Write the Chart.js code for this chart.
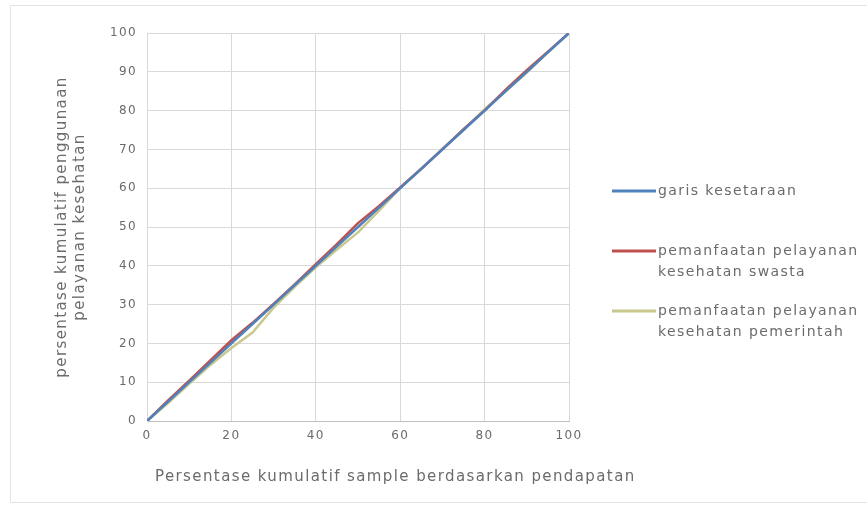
<!DOCTYPE html>
<html>
<head>
<meta charset="utf-8">
<script src="https://cdn.jsdelivr.net/npm/chart.js@4"></script>
<style>
  body { margin: 0; background: #fff; }
</style>
</head>
<body>
<canvas id="lorenzChart" width="867" height="510"></canvas>
<script>
// cumulative % of sample by income (x) and cumulative % of health service use (y)
const sampleX = [0, 5, 10, 15, 20, 25, 30, 35, 40, 45, 50, 55, 60, 65, 70, 75, 80, 85, 90, 95, 100];
const garisKesetaraan = [0, 5, 10, 15, 20, 25, 30, 35, 40, 45, 50, 55, 60, 65, 70, 75, 80, 85, 90, 95, 100];
const swasta = [0, 5.3, 10.4, 15.6, 20.8, 25.3, 30.2, 35.2, 40.4, 45.6, 51, 55.4, 60.2, 65, 70, 75.2, 80, 85.4, 90.4, 95.2, 100];
const pemerintah = [0, 4.6, 9.6, 14.4, 18.8, 22.8, 29.2, 34.6, 39.6, 44.2, 48.6, 54.2, 60, 65, 70.2, 75, 80.4, 85, 89.8, 95, 100];

const seriesNames = ["garis kesetaraan", ["pemanfaatan pelayanan", "kesehatan swasta"], ["pemanfaatan pelayanan", "kesehatan pemerintah"]];
const seriesColors = ["#4f81bd", "#c0504d", "#c9c88e"];
const xTitle = "Persentase kumulatif sample berdasarkan pendapatan";
const yTitle = ["persentase kumulatif penggunaan", "pelayanan kesehatan"];

const FONT = "'DejaVu Sans', sans-serif";
const GREY = "#6b6b6b";

function toPoints(ys) {
  return ys.map((y, i) => ({ x: sampleX[i], y: y }));
}

// legend drawn at the right like the spreadsheet one, with wrapped labels;
// the x title is drawn here too because it runs wider than the plot
const sideLegend = {
  id: "sideLegend",
  afterDraw(chart) {
    const ctx = chart.ctx;
    const rows = [191, 251, 311];
    ctx.save();
    ctx.font = "14px " + FONT;
    ctx.fillStyle = GREY;
    ctx.textBaseline = "middle";
    chart.data.datasets.forEach((ds, i) => {
      const y = rows[i];
      ctx.strokeStyle = ds.borderColor;
      ctx.lineWidth = 3;
      ctx.beginPath();
      ctx.moveTo(612, y);
      ctx.lineTo(656, y);
      ctx.stroke();
      const lines = Array.isArray(seriesNames[i]) ? seriesNames[i] : [seriesNames[i]];
      lines.forEach((t, j) => ctx.fillText(t, 658, y + j * 21));
    });
    ctx.font = "15px " + FONT;
    ctx.letterSpacing = "1.4px";
    ctx.fillText(xTitle, chart.chartArea.left + 8, 477);
    ctx.restore();
  }
};

const frame = {
  id: "frame",
  beforeDraw(chart) {
    const ctx = chart.ctx;
    ctx.save();
    ctx.fillStyle = "#fff";
    ctx.fillRect(0, 0, chart.width, chart.height);
    ctx.strokeStyle = "#e4e4e4";
    ctx.lineWidth = 1;
    ctx.strokeRect(10.5, 5.5, 880, 497);
    ctx.restore();
    // the original labels are set quite loosely
    ctx.letterSpacing = "1.4px";
  }
};

new Chart(document.getElementById("lorenzChart"), {
  type: "line",
  data: {
    datasets: [
      { label: "garis kesetaraan", data: toPoints(garisKesetaraan), borderColor: seriesColors[0], borderWidth: 2.5 },
      { label: "pemanfaatan pelayanan kesehatan swasta", data: toPoints(swasta), borderColor: seriesColors[1], borderWidth: 2.5 },
      { label: "pemanfaatan pelayanan kesehatan pemerintah", data: toPoints(pemerintah), borderColor: seriesColors[2], borderWidth: 2.5 }
    ]
  },
  options: {
    responsive: false,
    animation: false,
    devicePixelRatio: 1,
    elements: { point: { radius: 0 }, line: { tension: 0 } },
    layout: { padding: { left: 10, right: 298, top: 33, bottom: 0 } },
    plugins: { legend: { display: false }, tooltip: { enabled: false } },
    scales: {
      x: {
        type: "linear",
        min: 0,
        max: 100,
        afterFit(scale) { scale.height = 89; },
        ticks: { stepSize: 20, padding: 8, color: GREY, font: { family: FONT, size: 12 } },
        grid: { color: "#d9d9d9", drawTicks: false },
        border: { color: "#bfbfbf" },
        title: { display: false }
      },
      y: {
        min: 0,
        max: 100,
        afterFit(scale) { scale.width = 137; },
        ticks: { stepSize: 10, padding: 10, color: GREY, font: { family: FONT, size: 12 } },
        grid: { color: "#d9d9d9", drawTicks: false },
        border: { color: "#d9d9d9" },
        title: {
          display: true,
          text: yTitle,
          color: GREY,
          font: { family: FONT, size: 15 },
          padding: { top: 43, bottom: 0 }
        }
      }
    }
  },
  plugins: [frame, sideLegend]
});
</script>
</body>
</html>
